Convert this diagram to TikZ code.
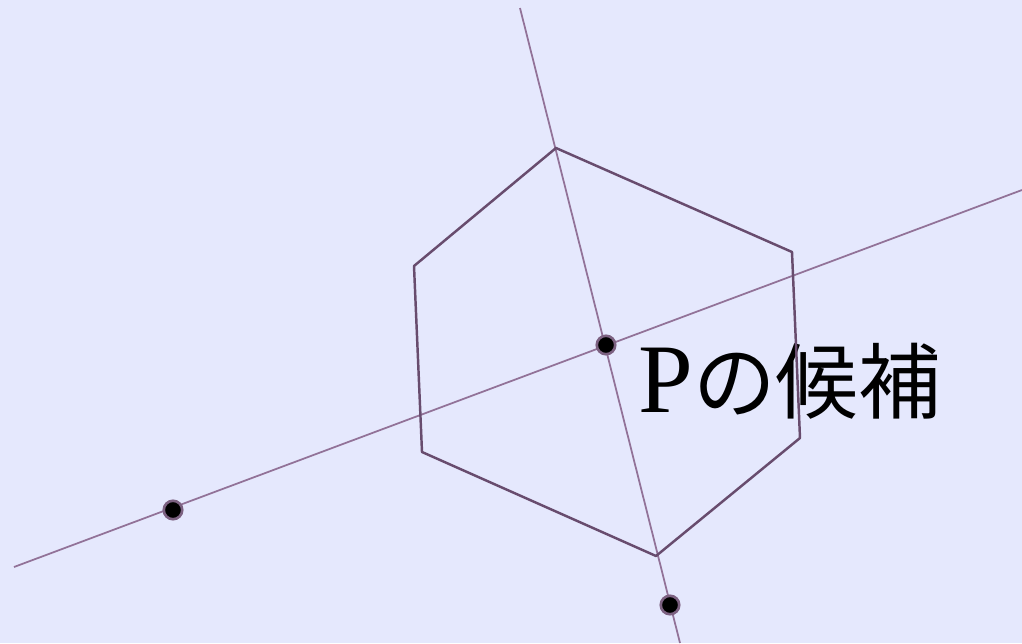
\documentclass[tikz,border=0pt]{standalone}
\usepackage{fontspec}
\setmainfont{Liberation Serif}
\newfontfamily\cjk{Noto Sans CJK JP}[Scale=0.84]
\usepackage{xcolor}
\definecolor{bgcol}{RGB}{229,232,253}
\definecolor{hexcol}{RGB}{104,76,110}
\definecolor{linecol}{RGB}{146,114,152}
\tikzset{
  dot/.style={circle, fill=black, draw=linecol!85!black, line width=1.5pt, inner sep=0pt, minimum size=10.5pt},
  guide/.style={linecol, line width=1pt},
  hexside/.style={hexcol, line width=1.4pt, line join=round}
}

\begin{document}
\begin{tikzpicture}[x=0.02cm, y=-0.02cm]
  % background
  \fill[bgcol] (0,0) rectangle (1022,643);
  \useasboundingbox (0,0) rectangle (1022,643);
  % label
  \node[anchor=base west, inner sep=0pt, font=\fontsize{56}{60}\selectfont] (lbl) at (638,412) {P\cjk の候補};
  % guide lines
  \coordinate (g1a) at (520,8);
  \coordinate (g1b) at (680,643);
  \coordinate (g2a) at (14,567);
  \coordinate (g2b) at (1022,190);
  \draw[guide] (g1a) -- (g1b);
  \draw[guide] (g2a) -- (g2b);
  % hexagon
  \coordinate (h1) at (556,148);
  \coordinate (h2) at (792,252);
  \coordinate (h3) at (800,438);
  \coordinate (h4) at (656,556);
  \coordinate (h5) at (422,452);
  \coordinate (h6) at (414,266);
  \draw[hexside] (h1) -- (h2) -- (h3) -- (h4) -- (h5) -- (h6) -- cycle;
  % points
  \node[dot] (p) at (606,345) {};
  \node[dot] (q) at (173,510) {};
  \node[dot] (r) at (670,605) {};
\end{tikzpicture}
\end{document}
